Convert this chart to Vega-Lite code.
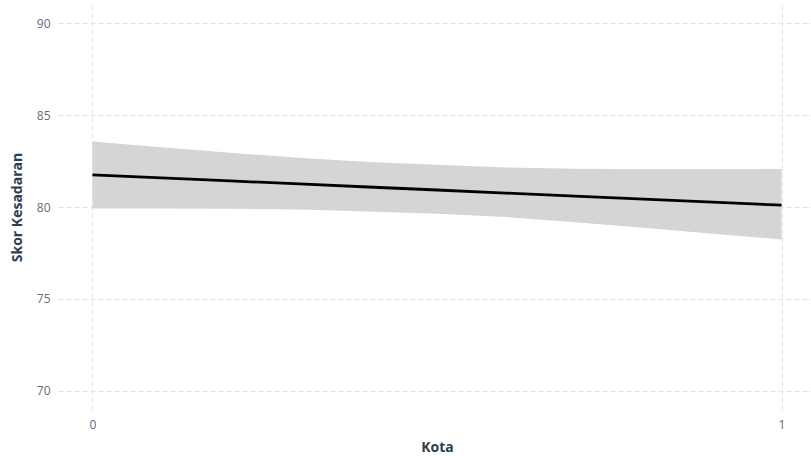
{
  "$schema": "https://vega.github.io/schema/vega-lite/v6.json",
  "width": 758,
  "height": 404,
  "autosize": {"type": "none"},
  "padding": {"left": 58, "top": 5, "right": 0, "bottom": 47},
  "background": "white",
  "config": {
    "view": {"stroke": null},
    "font": "Open Sans",
    "axis": {
      "domain": false,
      "ticks": false,
      "grid": true,
      "gridColor": "#e3e3e3",
      "gridDash": [5, 3],
      "gridWidth": 1,
      "labelColor": "#5d6d7e",
      "labelFontSize": 12,
      "labelFont": "Open Sans",
      "titleColor": "#2c3e50",
      "titleFontSize": 14,
      "titleFontWeight": "bold",
      "titleFont": "Open Sans"
    }
  },
  "data": {
    "values": [
      {"x": 0.0, "fit": 81.75, "lower": 79.92, "upper": 83.57},
      {"x": 0.1, "fit": 81.585, "lower": 79.92, "upper": 83.25},
      {"x": 0.2, "fit": 81.42, "lower": 79.91, "upper": 82.95},
      {"x": 0.3, "fit": 81.255, "lower": 79.87, "upper": 82.68},
      {"x": 0.4, "fit": 81.09, "lower": 79.76, "upper": 82.45},
      {"x": 0.5, "fit": 80.925, "lower": 79.63, "upper": 82.3},
      {"x": 0.6, "fit": 80.76, "lower": 79.45, "upper": 82.15},
      {"x": 0.7, "fit": 80.595, "lower": 79.17, "upper": 82.08},
      {"x": 0.8, "fit": 80.43, "lower": 78.87, "upper": 82.05},
      {"x": 0.9, "fit": 80.265, "lower": 78.55, "upper": 82.05},
      {"x": 1.0, "fit": 80.1, "lower": 78.23, "upper": 82.07}
    ]
  },
  "encoding": {
    "x": {
      "field": "x",
      "type": "quantitative",
      "title": "Kota",
      "scale": {"domain": [-0.05, 1.05], "nice": false, "zero": false},
      "axis": {"values": [0, 1], "labelPadding": 10, "titlePadding": 10, "format": "d"}
    }
  },
  "layer": [
    {
      "mark": {"type": "area", "color": "#d5d5d5", "opacity": 1},
      "encoding": {
        "y": {
          "field": "lower",
          "type": "quantitative",
          "title": "Skor Kesadaran",
          "scale": {"domain": [69, 91], "nice": false, "zero": false},
          "axis": {"values": [70, 75, 80, 85, 90], "labelPadding": 8, "titlePadding": 12}
        },
        "y2": {"field": "upper"}
      }
    },
    {
      "mark": {"type": "line", "color": "black", "strokeWidth": 2.8},
      "encoding": {
        "y": {"field": "fit", "type": "quantitative"}
      }
    }
  ]
}
